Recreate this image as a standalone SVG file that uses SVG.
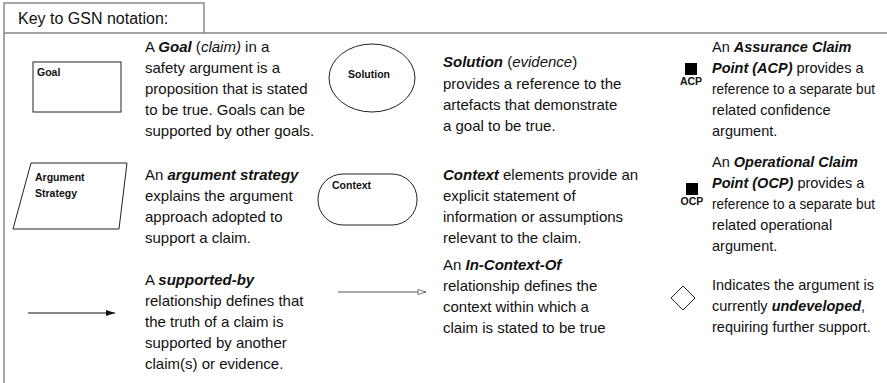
<svg xmlns="http://www.w3.org/2000/svg" width="887" height="383" viewBox="0 0 887 383">
<style>
.p{font-family:"Liberation Sans",Arial,sans-serif;font-size:15px;fill:#111}
.r{font-size:14.5px}
.bi{font-weight:bold;font-style:italic}
.i{font-style:italic}
.lbl{font-family:"Liberation Sans",Arial,sans-serif;font-size:10.5px;font-weight:bold;fill:#111}
.shape{fill:#fff;stroke:#222;stroke-width:1}
.frame{fill:none;stroke:#888;stroke-width:1.5}
</style>
<defs>
<marker id="solid" markerWidth="10" markerHeight="8" refX="9" refY="4" orient="auto" markerUnits="userSpaceOnUse"><path d="M0,1 L9,4 L0,7 Z" fill="#111"/></marker>
<marker id="hollow" markerWidth="10" markerHeight="8" refX="9" refY="4" orient="auto" markerUnits="userSpaceOnUse"><path d="M1,1.5 L9,4 L1,6.5 Z" fill="#fff" stroke="#555" stroke-width="0.8"/></marker>
</defs>
<rect width="887" height="383" fill="#fff"/>
<g id="frame">
<path class="frame" d="M4,383 V33 H887"/>
<path class="frame" d="M4,33 V3 H204 V33"/>
<text class="p" x="18" y="24" style="font-size:16px">Key to GSN notation:</text>
</g>
<g id="goal">
<rect class="shape" x="33" y="62" width="88" height="50"/>
<text class="lbl" x="37" y="76">Goal</text>
<text class="p"><tspan x="145" y="52">A <tspan class="bi">Goal</tspan> (<tspan class="i">claim)</tspan> in a</tspan><tspan x="145" y="73">safety argument is a</tspan><tspan x="145" y="94">proposition that is stated</tspan><tspan x="145" y="115">to be true. Goals can be</tspan><tspan x="145" y="136">supported by other goals.</tspan></text>
</g>
<g id="strategy">
<polygon class="shape" points="31,163 127,163 119,229 13,229"/>
<text class="lbl"><tspan x="35" y="181">Argument</tspan><tspan x="35" y="197">Strategy</tspan></text>
<text class="p"><tspan x="145" y="180">An <tspan class="bi">argument strategy</tspan></tspan><tspan x="145" y="201">explains the argument</tspan><tspan x="145" y="222">approach adopted to</tspan><tspan x="145" y="243">support a claim.</tspan></text>
</g>
<g id="supportedby">
<text class="p"><tspan x="145" y="285">A <tspan class="bi">supported-by</tspan></tspan><tspan x="145" y="306">relationship defines that</tspan><tspan x="145" y="327">the truth of a claim is</tspan><tspan x="145" y="348">supported by another</tspan><tspan x="145" y="369">claim(s) or evidence.</tspan></text>
</g>
<g id="solution">
<ellipse class="shape" cx="372" cy="78" rx="43" ry="34"/>
<text class="lbl" x="369" y="78" text-anchor="middle">Solution</text>
<text class="p"><tspan x="443" y="67"><tspan class="bi">Solution</tspan> (<tspan class="i">evidence</tspan>)</tspan><tspan x="443" y="89">provides a reference to the</tspan><tspan x="443" y="110">artefacts that demonstrate</tspan><tspan x="443" y="131">a goal to be true.</tspan></text>
</g>
<g id="context">
<rect class="shape" x="318" y="174" width="99" height="51" rx="25" ry="25"/>
<text class="lbl" x="332" y="189">Context</text>
<text class="p"><tspan x="443" y="180"><tspan class="bi">Context</tspan> elements provide an</tspan><tspan x="443" y="201">explicit statement of</tspan><tspan x="443" y="222">information or assumptions</tspan><tspan x="443" y="243">relevant to the claim.</tspan></text>
</g>
<g id="incontextof">
<text class="p"><tspan x="443" y="270">An <tspan class="bi">In-Context-Of</tspan></tspan><tspan x="443" y="291">relationship defines the</tspan><tspan x="443" y="312">context within which a</tspan><tspan x="443" y="333">claim is stated to be true</tspan></text>
</g>
<g id="acp">
<rect x="685" y="63" width="12" height="12" fill="#000"/>
<text class="lbl" x="691" y="85" text-anchor="middle">ACP</text>
<text class="p r"><tspan x="712" y="52">An <tspan class="bi">Assurance Claim</tspan></tspan><tspan x="712" y="73"><tspan class="bi">Point (ACP)</tspan> provides a</tspan><tspan x="712" y="94" textLength="163" lengthAdjust="spacingAndGlyphs">reference to a separate but</tspan><tspan x="712" y="115">related confidence</tspan><tspan x="712" y="136">argument.</tspan></text>
</g>
<g id="ocp">
<rect x="686" y="183" width="12" height="12" fill="#000"/>
<text class="lbl" x="692" y="205" text-anchor="middle">OCP</text>
<text class="p r"><tspan x="712" y="167">An <tspan class="bi">Operational Claim</tspan></tspan><tspan x="712" y="188"><tspan class="bi">Point (OCP)</tspan> provides a</tspan><tspan x="712" y="209" textLength="163" lengthAdjust="spacingAndGlyphs">reference to a separate but</tspan><tspan x="712" y="230">related operational</tspan><tspan x="712" y="251">argument.</tspan></text>
</g>
<g id="undeveloped">
<polygon class="shape" points="683,286 695,298 683,310 671,298"/>
<text class="p r"><tspan x="712" y="290">Indicates the argument is</tspan><tspan x="712" y="311">currently <tspan class="bi">undeveloped</tspan>,</tspan><tspan x="712" y="332">requiring further support.</tspan></text>
</g>
<g id="connectors">
<line x1="28" y1="313" x2="115" y2="313" stroke="#111" stroke-width="1" marker-end="url(#solid)"/>
<line x1="338" y1="292" x2="426" y2="292" stroke="#555" stroke-width="1" marker-end="url(#hollow)"/>
</g>
</svg>
